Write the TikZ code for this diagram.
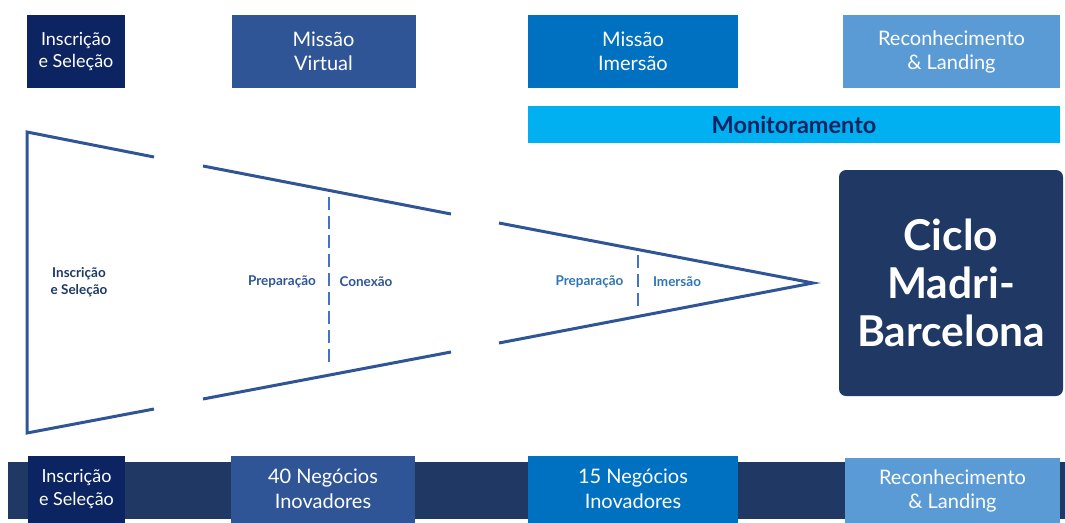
\documentclass[tikz,border=0pt]{standalone}
\usepackage{fontspec}
\setmainfont{Lato}
\usetikzlibrary{positioning}
\definecolor{cnavy}{HTML}{0C2461}
\definecolor{cmid}{HTML}{2F5597}
\definecolor{cblue}{HTML}{0070C0}
\definecolor{clight}{HTML}{5B9BD5}
\definecolor{ccyan}{HTML}{00B0F0}
\definecolor{cdark}{HTML}{1F3864}
\definecolor{cdash}{HTML}{4472C4}
\definecolor{ctxtB}{HTML}{2E75B6}
\begin{document}
\begin{tikzpicture}[x=1pt,y=-1pt,
  box/.style={rectangle, inner sep=0pt, text=white, align=center},
  topbox/.style={box, minimum height=73pt, font=\fontsize{20}{24}\selectfont},
  botbox/.style={box, minimum height=67pt, font=\fontsize{20}{24.5}\selectfont},
  smalltxt/.style={font=\fontsize{18}{22.5}\selectfont},
  funnel/.style={draw=cmid, line width=3pt, line join=miter},
  divider/.style={draw=cdash, line width=1.8pt, dash pattern=on 13pt off 6pt},
  lbl/.style={font=\bfseries\fontsize{13.5}{16.5}\selectfont, align=center, inner sep=0pt}
]
\useasboundingbox (0,0) rectangle (1065,522);

% top row
\node[topbox, fill=cnavy, minimum width=98pt, smalltxt] (t1) at (76,51.5) {Inscrição\\e Seleção};
\node[topbox, fill=cmid, minimum width=184pt] (t2) at (323.5,51.5) {Missão\\Virtual};
\node[topbox, fill=cblue, minimum width=210pt] (t3) at (633,51.5) {Missão\\Imersão};
\node[topbox, fill=clight, minimum width=217pt] (t4) at (951.5,51.5) {Reconhecimento\\\& Landing};
\node[box, fill=ccyan, minimum width=532pt, minimum height=37pt, text=cnavy,
  font=\bfseries\fontsize{23.5}{26}\selectfont] (mon) at (794,124.5) {Monitoramento};

% funnel segment 1
\coordinate (a1) at (154,157);
\coordinate (a2) at (27,132);
\coordinate (a3) at (27,433);
\coordinate (a4) at (154,409);
\draw[funnel] (a1) -- (a2) -- (a3) -- (a4);
\node[lbl, text=cdark] (l1) at (79,282) {Inscrição\\e Seleção};

% funnel segment 2
\coordinate (b1) at (203,166);
\coordinate (b2) at (451,214);
\coordinate (b3) at (203,399);
\coordinate (b4) at (451,352);
\draw[funnel] (b1) -- (b2);
\draw[funnel] (b3) -- (b4);
\coordinate (d1) at (329,197);
\coordinate (d2) at (329,368);
\draw[divider] (d1) -- (d2);
\node[lbl, text=cmid] (l2) at (282,282) {Preparação};
\node[lbl, text=cmid] (l3) at (366,282) {Conexão};

% funnel segment 3
\coordinate (c1) at (499,223);
\coordinate (c2) at (813,283);
\coordinate (c3) at (499,343);
\draw[funnel] (c1) -- (c2) -- (c3);
\coordinate (e1) at (638,255);
\coordinate (e2) at (638,311);
\draw[divider] (e1) -- (e2);
\node[lbl, text=ctxtB] (l4) at (589.5,282) {Preparação};
\node[lbl, text=ctxtB] (l5) at (677,282) {Imersão};

% result box
\node[box, fill=cdark, rounded corners=7pt, minimum width=224pt, minimum height=226pt,
  font=\bfseries\fontsize{42.5}{48}\selectfont] (ciclo) at (951,283) {Ciclo\\Madri-\\Barcelona};

% bottom bar
\node[box, fill=cdark, minimum width=1057pt, minimum height=57pt, anchor=west] (bar) at (8,490.5) {};
\node[botbox, fill=cnavy, minimum width=97pt, smalltxt] (u1) at (76.5,489) {Inscrição\\e Seleção};
\node[botbox, fill=cmid, minimum width=184pt] (u2) at (323,489) {40 Negócios\\Inovadores};
\node[botbox, fill=cblue, minimum width=210pt] (u3) at (633,489) {15 Negócios\\Inovadores};
\node[botbox, fill=clight, minimum width=215pt] (u4) at (952.5,491) {Reconhecimento\\\& Landing};
\end{tikzpicture}
\end{document}
